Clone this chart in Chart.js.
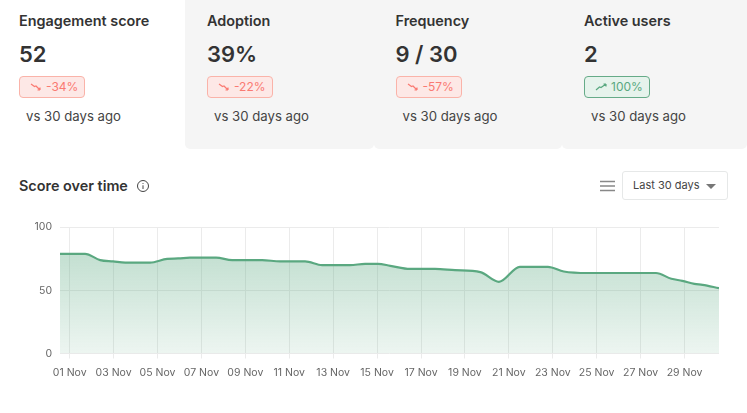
<!DOCTYPE html>
<html>
<head>
<meta charset="utf-8">
<script src="https://cdn.jsdelivr.net/npm/chart.js@4"></script>
<style>
  html, body { margin: 0; padding: 0; background: #fff; width: 747px; height: 413px; overflow: hidden; font-family: Inter, sans-serif; color: #333; }
  .card { position: absolute; top: 0; height: 149px; box-sizing: border-box; border-radius: 0 0 5px 5px; }
  .card.grey { background: #f5f5f5; }
  .name { position: absolute; left: 19px; top: 12px; font-size: 14.4px; font-weight: 600; line-height: 18px; white-space: nowrap; }
  .big { position: absolute; left: 19px; top: 40px; font-size: 22px; font-weight: 600; line-height: 28px; white-space: nowrap; }
  .badge { position: absolute; left: 19px; top: 76px; width: 66px; height: 22px; box-sizing: border-box; border-radius: 4px; font-size: 12px; line-height: 20px; white-space: nowrap; }
  .grey .name, .grey .big, .grey .badge { left: 22px; }
  .grey .vs { left: 29px; }
  .badge.down { background: #fde8e6; border: 1px solid #fab3a9; color: #fa7a72; }
  .badge.up { background: #e6f3ec; border: 1px solid #66ab88; color: #5aa880; }
  .badge svg { position: absolute; left: 10px; top: 5px; }
  .badge span { position: absolute; left: 26px; top: 0; }
  .vs { position: absolute; left: 26px; top: 107px; font-size: 13.2px; line-height: 18px; color: #444; white-space: nowrap; }
  #title { position: absolute; left: 19px; top: 177px; font-size: 14.4px; font-weight: 600; line-height: 18px; }
  #info { position: absolute; left: 136px; top: 179px; }
  #menu { position: absolute; left: 600px; top: 180px; }
  #range { position: absolute; left: 622px; top: 171px; width: 106px; height: 29px; box-sizing: border-box; border: 1px solid #e6e8e8; border-radius: 3px; background: #fff; font-size: 11px; line-height: 27px; padding-left: 10px; color: #444; }
  #range i { position: absolute; left: 83px; top: 12px; width: 0; height: 0; border-left: 5px solid transparent; border-right: 5px solid transparent; border-top: 5px solid #777; }
  #wrap { position: absolute; left: 0; top: 213px; width: 747px; height: 168px; }
</style>
</head>
<body>
<div id="cards"></div>
<div id="title">Score over time</div>
<svg id="info" width="14" height="14" viewBox="0 0 14 14" fill="none" stroke="#444" stroke-width="1">
  <circle cx="7" cy="7" r="5.5"></circle>
  <path d="M7 6.3V10M7 4V4.9"></path>
</svg>
<svg id="menu" width="15" height="12" viewBox="0 0 15 12" stroke="#888" stroke-width="1.4">
  <path d="M0 1.5H15M0 6H15M0 10.5H15"></path>
</svg>
<div id="range">Last 30 days<i></i></div>
<div id="wrap"><canvas id="grafico"></canvas></div>

<script>
// CARDS
const cardNames = ["Engagement score", "Adoption", "Frequency", "Active users"];
const cardValues = ["52", "39%", "9 / 30", "2"];
const cardChanges = ["-34%", "-22%", "-57%", "100%"];
const cardLefts = [0, 185, 373.5, 562];
const cardWidths = [185, 188.5, 188.5, 185];

// CHART DATA (x is the day counted from 01 Nov)
const tickLabels = ["01 Nov", "02 Nov", "03 Nov", "04 Nov", "05 Nov", "06 Nov", "07 Nov", "08 Nov", "09 Nov", "10 Nov",
  "11 Nov", "12 Nov", "13 Nov", "14 Nov", "15 Nov", "16 Nov", "17 Nov", "18 Nov", "19 Nov", "20 Nov",
  "21 Nov", "22 Nov", "23 Nov", "24 Nov", "25 Nov", "26 Nov", "27 Nov", "28 Nov", "29 Nov", "30 Nov"];
const days = [-0.44, 0.7, 1.39, 1.98, 2.53, 3.66, 4.44, 4.94, 5.48, 6.67, 7.4, 8.76, 9.58, 10.72, 11.5, 12.77,
  13.45, 14.04, 14.6, 15.5, 16.64, 17.55, 18.7, 19.55, 20.5, 21.78, 22.5, 23.6, 26.7, 27.4, 27.9, 28.45, 28.82, 29.57];
const scores = [79, 79, 74, 73, 72, 72, 75, 75.3, 76, 76, 74, 74, 73, 73, 70, 70,
  71, 71, 69.5, 67, 67, 66, 64.5, 56.8, 68.7, 68.7, 65, 63.8, 63.8, 59.2, 57.6, 55.2, 54.4, 51.8];

const downIcon = '<svg width="13" height="10" viewBox="0 0 13 10" fill="none" stroke="#fa7a72" stroke-width="1.2"><path d="M1 2L4.5 4.5L6 4L10 8M10 8V5.5M10 8H7.5"></path></svg>';
const upIcon = '<svg width="13" height="10" viewBox="0 0 13 10" fill="none" stroke="#5aa880" stroke-width="1.2"><path d="M1 8L4.5 5L6 5.5L11 2M11 2H8.5M11 2V4.5"></path></svg>';

let html = "";
for (let i = 0; i < cardNames.length; i++) {
  let up = cardChanges[i].charAt(0) !== "-";
  html += '<div class="card' + (i > 0 ? " grey" : "") + '" style="left:' + cardLefts[i] + 'px;width:' + cardWidths[i] + 'px">' +
    '<div class="name">' + cardNames[i] + '</div>' +
    '<div class="big">' + cardValues[i] + '</div>' +
    '<div class="badge ' + (up ? "up" : "down") + '">' + (up ? upIcon : downIcon) + '<span>' + cardChanges[i] + '</span></div>' +
    '<div class="vs">vs 30 days ago</div></div>';
}
document.getElementById("cards").innerHTML = html;

// GRAFICO
let pontos = [];
for (let i = 0; i < days.length; i++) pontos.push({ x: days[i], y: scores[i] });

new Chart(document.getElementById("grafico"), {
  type: "line",
  data: {
    datasets: [{
      data: pontos,
      borderColor: "#5aa880",
      borderWidth: 2.2,
      pointRadius: 0,
      cubicInterpolationMode: "monotone",
      fill: "origin",
      backgroundColor: function (ctx) {
        let area = ctx.chart.chartArea;
        if (!area) return "rgba(90,168,128,0.3)";
        let g = ctx.chart.ctx.createLinearGradient(0, area.top + 27, 0, area.bottom);
        g.addColorStop(0, "rgba(90,168,128,0.36)");
        g.addColorStop(1, "rgba(90,168,128,0.11)");
        return g;
      },
    }],
  },
  options: {
    responsive: true,
    maintainAspectRatio: false,
    animation: false,
    layout: { padding: { top: 13, right: 28 } },
    plugins: { legend: { display: false }, tooltip: { enabled: false } },
    scales: {
      x: {
        type: "linear",
        min: -0.44,
        max: 29.57,
        afterFit: function (scale) { scale.height = 27.5; },
        border: { display: false },
        grid: { color: "#ebebeb", lineWidth: 1, tickLength: 5 },
        ticks: {
          stepSize: 2,
          includeBounds: false,
          maxRotation: 0,
          autoSkip: false,
          padding: 8,
          color: "#666",
          font: { family: "Inter", size: 10.5 },
          callback: function (value) { return tickLabels[value]; },
        },
      },
      y: {
        min: 0,
        max: 100,
        afterFit: function (scale) { scale.width = 60; },
        border: { display: false },
        grid: { color: "#ebebeb", lineWidth: 1, drawTicks: false },
        ticks: {
          stepSize: 50,
          padding: 8,
          color: "#666",
          font: { family: "Inter", size: 10.5 },
        },
      },
    },
  },
});
</script>
</body>
</html>
